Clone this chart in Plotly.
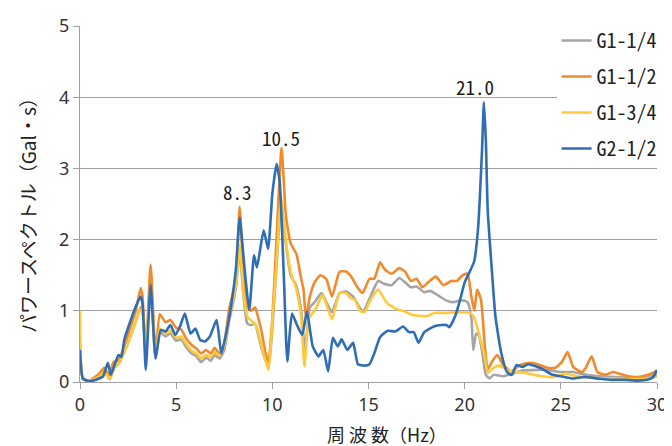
import plotly.graph_objects as go

# (frequency Hz, power spectrum Gal·s)
G1_14 = [(0,0.5),(0.15,0.04),(0.5,0.01),(1.0,0.08),(1.25,0.15),(1.55,0.04),(1.8,0.22),(2.0,0.25),(2.3,0.42),(2.6,0.62),(2.9,0.85),(3.15,1.05),(3.25,1.0),(3.42,0.4),(3.67,1.35),(3.93,0.33),(4.15,0.7),(4.45,0.64),(4.7,0.68),(5.0,0.58),(5.25,0.6),(5.5,0.5),(5.8,0.4),(6.05,0.36),(6.3,0.28),(6.55,0.34),(6.8,0.3),(7.0,0.38),(7.25,0.33),(7.5,0.45),(7.75,0.85),(7.95,1.1),(8.12,1.35),(8.3,1.85),(8.5,1.2),(8.7,0.82),(8.9,0.8),(9.1,0.82),(9.3,0.62),(9.5,0.42),(9.8,0.2),(10.0,0.75),(10.2,1.55),(10.45,2.5),(10.7,1.95),(10.95,1.5),(11.25,1.35),(11.5,1.0),(11.7,0.45),(11.95,1.05),(12.2,1.12),(12.55,1.25),(12.85,1.1),(13.1,0.98),(13.5,1.25),(13.85,1.27),(14.2,1.2),(14.6,1.02),(14.75,1.0),(15.1,1.2),(15.5,1.42),(15.8,1.38),(16.2,1.36),(16.6,1.46),(16.9,1.4),(17.2,1.33),(17.5,1.34),(17.9,1.26),(18.2,1.28),(18.6,1.22),(19.0,1.15),(19.4,1.12),(19.8,1.15),(20.15,1.12),(20.35,0.9),(20.45,0.45),(20.6,0.68),(20.75,0.65),(20.95,0.35),(21.1,0.1),(21.3,0.05),(21.5,0.1),(22.0,0.08),(22.5,0.12),(23.0,0.16),(23.8,0.17),(24.3,0.17),(25.0,0.14),(25.65,0.14),(26.3,0.1),(27.0,0.08),(28.0,0.07),(29.0,0.05),(30.0,0.1)]

G1_12 = [(0,0.55),(0.15,0.05),(0.5,0.02),(1.0,0.12),(1.25,0.2),(1.5,0.1),(1.75,0.28),(2.0,0.3),(2.3,0.5),(2.6,0.75),(2.9,1.0),(3.15,1.32),(3.25,1.2),(3.42,0.4),(3.67,1.65),(3.93,0.4),(4.15,0.95),(4.45,0.84),(4.7,0.87),(5.0,0.76),(5.25,0.74),(5.5,0.62),(5.8,0.52),(6.05,0.47),(6.3,0.4),(6.55,0.45),(6.8,0.4),(7.0,0.48),(7.25,0.4),(7.5,0.55),(7.75,1.02),(7.95,1.25),(8.12,1.45),(8.3,2.46),(8.5,1.5),(8.7,1.05),(8.9,1.0),(9.1,1.05),(9.25,0.92),(9.45,0.7),(9.65,0.4),(9.8,0.28),(10.0,0.9),(10.2,1.9),(10.48,3.29),(10.7,2.35),(10.95,1.95),(11.25,1.8),(11.5,1.45),(11.62,1.3),(11.75,0.9),(11.95,1.2),(12.2,1.4),(12.5,1.5),(12.8,1.45),(13.1,1.2),(13.5,1.55),(13.85,1.55),(14.1,1.48),(14.5,1.3),(14.7,1.25),(15.05,1.45),(15.3,1.45),(15.6,1.68),(15.85,1.58),(16.2,1.52),(16.6,1.6),(16.9,1.55),(17.2,1.42),(17.5,1.45),(17.8,1.33),(18.1,1.4),(18.5,1.48),(18.9,1.36),(19.3,1.42),(19.6,1.42),(19.9,1.5),(20.15,1.52),(20.35,1.2),(20.5,1.0),(20.65,1.3),(20.85,1.15),(21.05,0.5),(21.2,0.18),(21.45,0.3),(21.7,0.38),(22.0,0.24),(22.4,0.15),(22.9,0.24),(23.4,0.27),(23.8,0.25),(24.3,0.2),(24.7,0.2),(25.05,0.28),(25.35,0.42),(25.65,0.21),(26.1,0.14),(26.3,0.2),(26.6,0.36),(26.9,0.14),(27.3,0.1),(27.7,0.14),(28.0,0.12),(28.5,0.08),(29.0,0.07),(29.5,0.1),(29.8,0.13),(30.0,0.16)]

G1_34 = [(0,1.0),(0.15,0.06),(0.5,0.01),(1.0,0.08),(1.25,0.14),(1.55,0.05),(1.8,0.2),(2.0,0.25),(2.3,0.42),(2.6,0.62),(2.9,0.85),(3.15,1.02),(3.25,0.98),(3.42,0.45),(3.67,1.35),(3.93,0.35),(4.15,0.75),(4.45,0.68),(4.7,0.72),(5.0,0.62),(5.25,0.64),(5.5,0.54),(5.8,0.44),(6.05,0.4),(6.3,0.33),(6.55,0.38),(6.8,0.35),(7.0,0.42),(7.25,0.37),(7.5,0.5),(7.75,0.9),(7.95,1.15),(8.12,1.4),(8.3,1.92),(8.5,1.25),(8.7,0.92),(8.95,0.85),(9.15,0.8),(9.3,0.66),(9.5,0.45),(9.8,0.17),(10.0,0.85),(10.2,1.6),(10.45,2.6),(10.7,2.0),(10.95,1.55),(11.25,1.3),(11.5,0.9),(11.67,0.22),(11.9,0.9),(12.05,0.95),(12.3,1.05),(12.6,1.22),(12.8,1.1),(13.1,0.88),(13.5,1.25),(13.85,1.25),(14.05,1.18),(14.3,1.15),(14.55,1.0),(14.8,0.98),(15.1,1.15),(15.5,1.3),(15.7,1.22),(16.0,1.1),(16.5,1.02),(16.9,0.99),(17.2,0.95),(17.6,0.93),(18.1,0.93),(18.4,0.97),(19.0,0.97),(19.6,0.98),(20.3,0.97),(20.5,0.9),(20.8,0.62),(21.05,0.35),(21.2,0.13),(21.5,0.2),(21.8,0.23),(22.3,0.16),(22.7,0.14),(23.3,0.12),(24.0,0.08),(24.6,0.07),(25.3,0.12),(25.8,0.08),(26.5,0.06),(27.5,0.05),(28.5,0.04),(29.5,0.05),(30.0,0.08)]

G2_12 = [(0,0.45),(0.15,0.05),(0.5,0.01),(1.0,0.05),(1.2,0.08),(1.45,0.27),(1.6,0.1),(2.0,0.38),(2.15,0.35),(2.3,0.59),(2.55,0.8),(2.9,1.06),(3.15,1.2),(3.25,1.1),(3.42,0.17),(3.67,1.36),(3.93,0.33),(4.2,0.73),(4.45,0.71),(4.7,0.8),(4.95,0.66),(5.2,0.78),(5.45,0.96),(5.75,0.68),(6.0,0.75),(6.25,0.59),(6.5,0.57),(6.75,0.64),(7.1,0.87),(7.35,0.4),(7.6,0.68),(7.85,1.06),(8.1,1.57),(8.3,2.31),(8.55,1.61),(8.8,1.01),(9.05,1.78),(9.2,1.61),(9.55,2.13),(9.78,1.87),(10.0,2.64),(10.22,3.06),(10.38,2.82),(10.6,1.47),(10.78,0.29),(11.02,0.96),(11.28,0.8),(11.55,0.66),(11.8,0.99),(12.1,0.5),(12.4,0.36),(12.65,0.45),(12.9,0.15),(13.15,0.62),(13.4,0.5),(13.6,0.6),(13.9,0.45),(14.2,0.55),(14.45,0.25),(14.8,0.23),(15.05,0.25),(15.3,0.4),(15.6,0.63),(16.0,0.72),(16.4,0.71),(16.8,0.78),(17.1,0.7),(17.35,0.7),(17.6,0.55),(17.9,0.7),(18.4,0.78),(18.8,0.8),(19.05,0.8),(19.2,0.77),(19.5,0.92),(19.76,1.15),(20.0,1.4),(20.3,1.57),(20.5,1.7),(20.7,2.17),(20.9,3.24),(21.0,3.93),(21.1,3.4),(21.2,2.4),(21.4,1.62),(21.6,0.92),(21.9,0.41),(22.2,0.14),(22.45,0.1),(22.7,0.24),(23.0,0.21),(23.3,0.25),(23.7,0.22),(24.0,0.19),(24.5,0.11),(25.2,0.07),(25.65,0.05),(26.2,0.07),(26.9,0.05),(27.6,0.03),(28.3,0.03),(29.0,0.02),(29.5,0.03),(29.8,0.07),(30.0,0.17)]

SERIES = [("G1-1/4", G1_14, "#A5A5A5"),
          ("G1-1/2", G1_12, "#F08A2C"),
          ("G1-3/4", G1_34, "#FFC93C"),
          ("G2-1/2", G2_12, "#2F6DB5")]

PEAK_LABELS = [(8.2, 2.67, "8.3"), (10.47, 3.44, "10.5"), (20.54, 4.15, "21.0")]

X_TICKS = [0, 5, 10, 15, 20, 25, 30]
Y_TICKS = [0, 1, 2, 3, 4, 5]

JP = "Noto Sans CJK JP"
MONO = "Noto Sans Mono CJK JP, DejaVu Sans Mono, monospace"

fig = go.Figure()
for name, pts, col in SERIES:
    xs = [p[0] for p in pts]
    ys = [p[1] for p in pts]
    fig.add_trace(go.Scatter(x=xs, y=ys, mode="lines", name=name, legendgroup=name,
                             line=dict(color=col, width=2.6, shape="spline", smoothing=0.5)))

for fx, fy, txt in PEAK_LABELS:
    fig.add_annotation(x=fx, y=fy, text=txt, showarrow=False, xref="x", yref="y",
                       font=dict(family=MONO, size=19, color="#1a1a1a"))

fig.add_annotation(x=0.532, y=-0.145, xref="paper", yref="paper", text="周 波 数（Hz）",
                   xanchor="center", yanchor="middle",
                   showarrow=False, font=dict(family=JP, size=18, color="#222"))
fig.add_annotation(x=-0.092, y=0.483, xref="paper", yref="paper", text="パワースペクトル（Gal・s）",
                   xanchor="center", yanchor="middle",
                   textangle=-90, showarrow=False, font=dict(family=JP, size=19, color="#222"))

# the page body adds an 8 px offset, so the figure is 8 px smaller and margins shifted
fig.update_layout(
    width=664, height=438,
    margin=dict(l=72, r=5, t=14, b=64),
    paper_bgcolor="white", plot_bgcolor="white",
    showlegend=True,
    legend=dict(x=0.826, y=1.014, xanchor="left", yanchor="top", bgcolor="white",
                font=dict(family=MONO, size=20, color="#222"), traceorder="grouped",
                tracegroupgap=7, itemwidth=30),
)
fig.update_xaxes(range=[0, 30], tickvals=X_TICKS, showgrid=False, showline=True,
                 linecolor="#A0A0A0", linewidth=1.3, ticks="outside", ticklen=6,
                 tickcolor="#A0A0A0", zeroline=False, ticklabeloverflow="allow",
                 tickfont=dict(family="Noto Sans", size=18, color="#333"))
fig.update_yaxes(range=[0, 5], tickvals=Y_TICKS, showgrid=True, gridcolor="#A0A0A0",
                 gridwidth=1.3, showline=True, linecolor="#A0A0A0", linewidth=1.3,
                 ticks="outside", ticklen=6, tickcolor="#A0A0A0", zeroline=False,
                 tickfont=dict(family="Noto Sans", size=18, color="#333"))

fig.write_html("out.html")
